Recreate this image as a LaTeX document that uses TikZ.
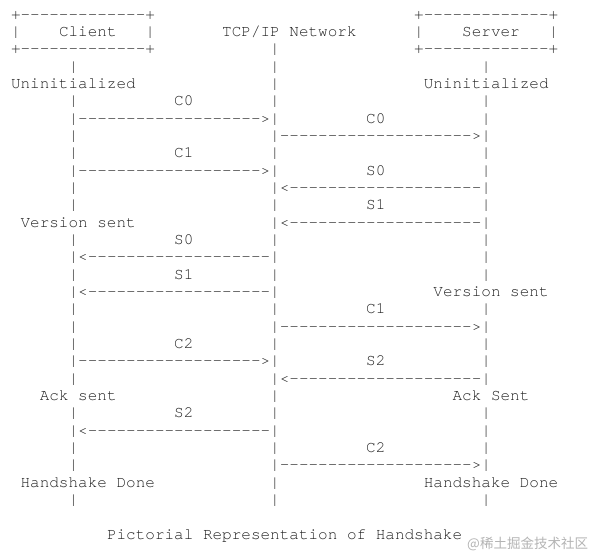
\documentclass[tikz,border=0pt]{standalone}
\usepackage{fontspec}
\IfFontExistsTF{texgyrecursor-regular.otf}{\setmonofont{texgyrecursor-regular.otf}}{\setmonofont{Latin Modern Mono}[FakeStretch=1.1429]}
\newfontfamily\cjkwm{Noto Sans CJK SC}
\definecolor{ink}{HTML}{222222}
\definecolor{wmgrey}{HTML}{B4B4B4}
\tikzset{
  asc/.style={anchor=base west, inner sep=0pt, outer sep=0pt,
    font={\ttfamily\fontsize{16pt}{17pt}\selectfont}, text=ink},
  wmark/.style={anchor=east, inner sep=0pt, outer sep=0pt,
    font={\cjkwm\fontsize{13.5pt}{14pt}\selectfont}, text=wmgrey}
}
\newcommand\ascl[4]{\node[asc] (#1) at ({11pt+#2*9.6pt},{-19.3pt-#3*17.333pt}) {#4};}
\begin{document}
\begin{tikzpicture}
\fill[white] (0pt,0pt) rectangle (592pt,-557pt);
\useasboundingbox (0pt,0pt) rectangle (592pt,-557pt);
% row 0
\ascl{cboxtop}{0}{0}{+-------------+}
\ascl{sboxtop}{42}{0}{+-------------+}
% row 1
\ascl{cl1}{0}{1}{|}
\ascl{client}{5}{1}{Client}
\ascl{cr1}{14}{1}{|}
\ascl{net}{22}{1}{TCP/IP Network}
\ascl{sl1}{42}{1}{|}
\ascl{server}{47}{1}{Server}
\ascl{sr1}{56}{1}{|}
% row 2
\ascl{cboxbot}{0}{2}{+-------------+}
\ascl{n2}{27}{2}{|}
\ascl{sboxbot}{42}{2}{+-------------+}
% row 3
\ascl{c3}{6}{3}{|}\ascl{n3}{27}{3}{|}\ascl{s3}{49}{3}{|}
% row 4
\ascl{cuninit}{0}{4}{Uninitialized}\ascl{n4}{27}{4}{|}\ascl{suninit}{43}{4}{Uninitialized}
% row 5
\ascl{c5}{6}{5}{|}\ascl{lc0}{17}{5}{C0}\ascl{n5}{27}{5}{|}\ascl{s5}{49}{5}{|}
% row 6
\ascl{a6}{6}{6}{|------------------->|}\ascl{rc0}{37}{6}{C0}\ascl{s6}{49}{6}{|}
% row 7
\ascl{c7}{6}{7}{|}\ascl{b7}{27}{7}{|-------------------->|}
% row 8
\ascl{c8}{6}{8}{|}\ascl{lc1}{17}{8}{C1}\ascl{n8}{27}{8}{|}\ascl{s8}{49}{8}{|}
% row 9
\ascl{a9}{6}{9}{|------------------->|}\ascl{rs0}{37}{9}{S0}\ascl{s9}{49}{9}{|}
% row 10
\ascl{c10}{6}{10}{|}\ascl{b10}{27}{10}{|<--------------------|}
% row 11
\ascl{c11}{6}{11}{|}\ascl{n11}{27}{11}{|}\ascl{rs1}{37}{11}{S1}\ascl{s11}{49}{11}{|}
% row 12
\ascl{cvers}{1}{12}{Version sent}\ascl{b12}{27}{12}{|<--------------------|}
% row 13
\ascl{c13}{6}{13}{|}\ascl{ls0}{17}{13}{S0}\ascl{n13}{27}{13}{|}\ascl{s13}{49}{13}{|}
% row 14
\ascl{a14}{6}{14}{|<-------------------|}\ascl{s14}{49}{14}{|}
% row 15
\ascl{c15}{6}{15}{|}\ascl{ls1}{17}{15}{S1}\ascl{n15}{27}{15}{|}\ascl{s15}{49}{15}{|}
% row 16
\ascl{a16}{6}{16}{|<-------------------|}\ascl{svers}{44}{16}{Version sent}
% row 17
\ascl{c17}{6}{17}{|}\ascl{n17}{27}{17}{|}\ascl{rc1}{37}{17}{C1}\ascl{s17}{49}{17}{|}
% row 18
\ascl{c18}{6}{18}{|}\ascl{b18}{27}{18}{|-------------------->|}
% row 19
\ascl{c19}{6}{19}{|}\ascl{lc2}{17}{19}{C2}\ascl{n19}{27}{19}{|}\ascl{s19}{49}{19}{|}
% row 20
\ascl{a20}{6}{20}{|------------------->|}\ascl{rs2}{37}{20}{S2}\ascl{s20}{49}{20}{|}
% row 21
\ascl{c21}{6}{21}{|}\ascl{b21}{27}{21}{|<--------------------|}
% row 22
\ascl{cack}{3}{22}{Ack sent}\ascl{n22}{27}{22}{|}\ascl{sack}{46}{22}{Ack Sent}
% row 23
\ascl{c23}{6}{23}{|}\ascl{ls2}{17}{23}{S2}\ascl{n23}{27}{23}{|}\ascl{s23}{49}{23}{|}
% row 24
\ascl{a24}{6}{24}{|<-------------------|}\ascl{s24}{49}{24}{|}
% row 25
\ascl{c25}{6}{25}{|}\ascl{n25}{27}{25}{|}\ascl{rc2}{37}{25}{C2}\ascl{s25}{49}{25}{|}
% row 26
\ascl{c26}{6}{26}{|}\ascl{b26}{27}{26}{|-------------------->|}
% row 27
\ascl{cdone}{1}{27}{Handshake Done}\ascl{n27}{27}{27}{|}\ascl{sdone}{43}{27}{Handshake Done}
% row 28
\ascl{c28}{6}{28}{|}\ascl{n28}{27}{28}{|}\ascl{s28}{49}{28}{|}
% row 30
\ascl{caption}{10}{30}{Pictorial Representation of Handshake}
% watermark
\node[wmark] (wm) at (588pt,-544pt) {@稀土掘金技术社区};
\end{tikzpicture}
\end{document}
